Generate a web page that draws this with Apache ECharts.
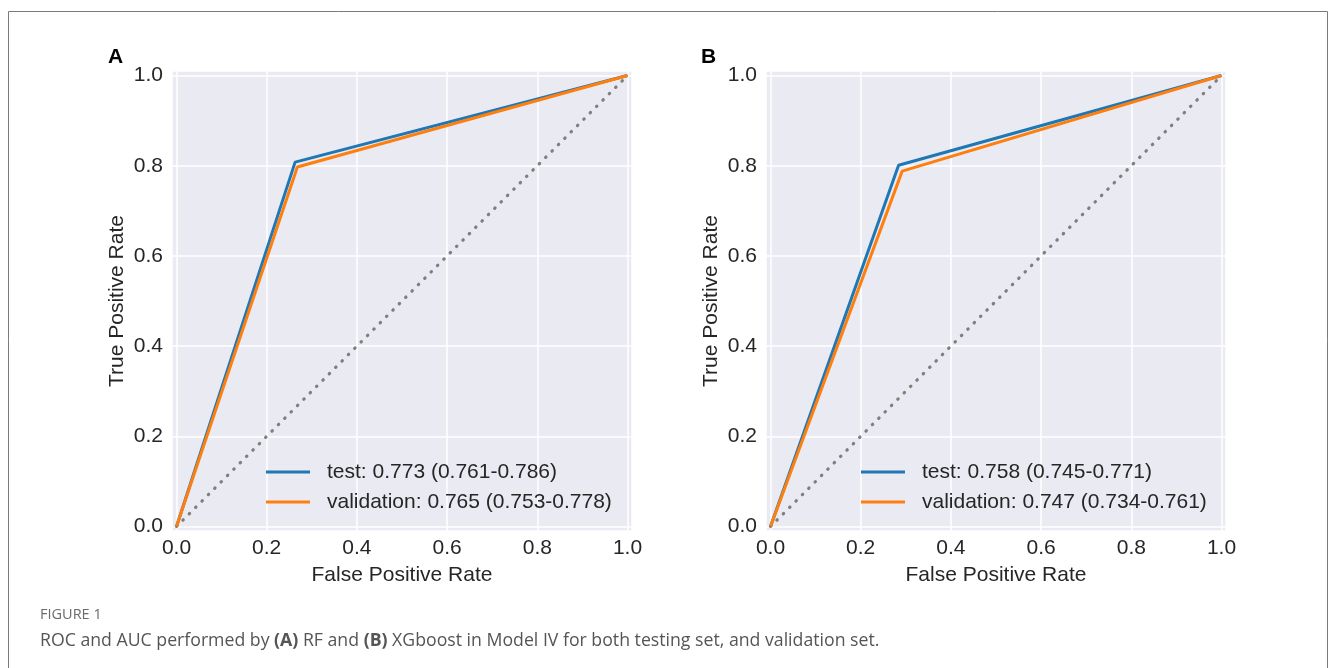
<!DOCTYPE html>
<html>
<head>
<meta charset="utf-8">
<script src="https://cdn.jsdelivr.net/npm/echarts@6/dist/echarts.min.js"></script>
<style>
  body { margin: 0; background: #fff; }
  #chart { width: 1336px; height: 668px; }
</style>
</head>
<body>
<div id="chart"></div>
<script>
// ROC points (FPR, TPR)
const rfTest = [[0, 0], [0.263, 0.808], [1, 1]]
const rfValidation = [[0, 0], [0.268, 0.797], [1, 1]]
const xgbTest = [[0, 0], [0.284, 0.801], [1, 1]]
const xgbValidation = [[0, 0], [0.292, 0.788], [1, 1]]
const chance = [[0, 0], [1, 1]]

const rfNames = ['test: 0.773 (0.761-0.786)', 'validation: 0.765 (0.753-0.778)']
const xgbNames = ['test: 0.758 (0.745-0.771)', 'validation: 0.747 (0.734-0.761)']
const panelLabels = ['A', 'B']

const BLUE = '#1f77b4'
const ORANGE = '#ff7f0e'
const TXT = '#262626'
const FONT = '"Liberation Sans", Arial, sans-serif'
const FS = 21

const chart = echarts.init(document.getElementById('chart'))

// show only 0.0, 0.2 ... 1.0, hide the -0.01 / 1.01 extent ticks
const tickFmt = v => Math.abs(v * 5 - Math.round(v * 5)) < 1e-6 ? v.toFixed(1) : ''

const grids = [
  { left: 172, top: 71, width: 460, height: 460 },
  { left: 766, top: 71, width: 460, height: 460 }
]

const mkAxis = (idx, name, isX) => ({
  type: 'value',
  gridIndex: idx,
  min: -0.01,
  max: 1.01,
  splitNumber: 5,
  name: name,
  nameLocation: 'middle',
  nameGap: isX ? 34 : 44,
  nameTextStyle: { color: TXT, fontSize: FS, fontFamily: FONT },
  axisLine: { show: false },
  axisTick: { show: false },
  axisLabel: {
    color: TXT, fontSize: FS, fontFamily: FONT,
    margin: isX ? 7 : 9,
    showMinLabel: false, showMaxLabel: false,
    formatter: tickFmt
  },
  splitLine: { show: true, lineStyle: { color: '#ffffff', width: 1.5 } }
})

const mkLine = (name, data, color, idx) => ({
  name: name,
  type: 'line',
  xAxisIndex: idx,
  yAxisIndex: idx,
  data: data,
  symbol: 'none',
  silent: true,
  lineStyle: { color: color, width: 3 },
  itemStyle: { color: color },
  z: 3
})

const mkChance = idx => ({
  name: 'chance' + idx,
  type: 'line',
  xAxisIndex: idx,
  yAxisIndex: idx,
  data: chance,
  symbol: 'none',
  silent: true,
  lineStyle: { color: '#7f7f7f', width: 3.2, type: [0.5, 8.5], cap: 'round' },
  z: 2
})

const mkLegend = (left, names) => ({
  data: names,
  left: left,
  top: 460,
  orient: 'vertical',
  padding: 0,
  itemGap: 6,
  itemWidth: 44,
  itemHeight: 3,
  icon: 'rect',
  selectedMode: false,
  textStyle: { color: TXT, fontSize: FS, fontFamily: FONT, lineHeight: 24, padding: [0, 0, 0, 12] }
})

const option = {
  backgroundColor: '#ffffff',
  animation: false,
  grid: grids.map(g => Object.assign({ show: true, backgroundColor: '#eaeaf2', borderWidth: 0 }, g)),
  xAxis: [mkAxis(0, 'False Positive Rate', true), mkAxis(1, 'False Positive Rate', true)],
  yAxis: [mkAxis(0, 'True Positive Rate', false), mkAxis(1, 'True Positive Rate', false)],
  legend: [mkLegend(266, rfNames), mkLegend(861, xgbNames)],
  series: [
    mkChance(0),
    mkLine(rfNames[0], rfTest, BLUE, 0),
    mkLine(rfNames[1], rfValidation, ORANGE, 0),
    mkChance(1),
    mkLine(xgbNames[0], xgbTest, BLUE, 1),
    mkLine(xgbNames[1], xgbValidation, ORANGE, 1)
  ],
  graphic: [
    // outer frame of the figure
    { type: 'rect', shape: { x: 8.5, y: 11.5, width: 1319, height: 700 }, style: { fill: 'none', stroke: '#7a7a7a', lineWidth: 1 }, silent: true },
    { type: 'text', left: 108, top: 47, style: { text: panelLabels[0], font: 'bold 21px ' + FONT, fill: '#000' } },
    { type: 'text', left: 701, top: 47, style: { text: panelLabels[1], font: 'bold 21px ' + FONT, fill: '#000' } },
    { type: 'text', left: 40, top: 607, style: { text: 'FIGURE 1', font: '14.5px "Open Sans", sans-serif', fill: '#6b6b6b' } },
    {
      type: 'text', left: 40, top: 632,
      style: {
        text: 'ROC and AUC performed by {b|(A)} RF and {b|(B)} XGboost in Model IV for both testing set, and validation set.',
        font: '17.7px "Open Sans", sans-serif',
        fill: '#555555',
        rich: { b: { fontWeight: 'bold', fontSize: 17.7, fontFamily: '"Open Sans", sans-serif', color: '#555555' } }
      }
    }
  ]
}

chart.setOption(option)
</script>
</body>
</html>
